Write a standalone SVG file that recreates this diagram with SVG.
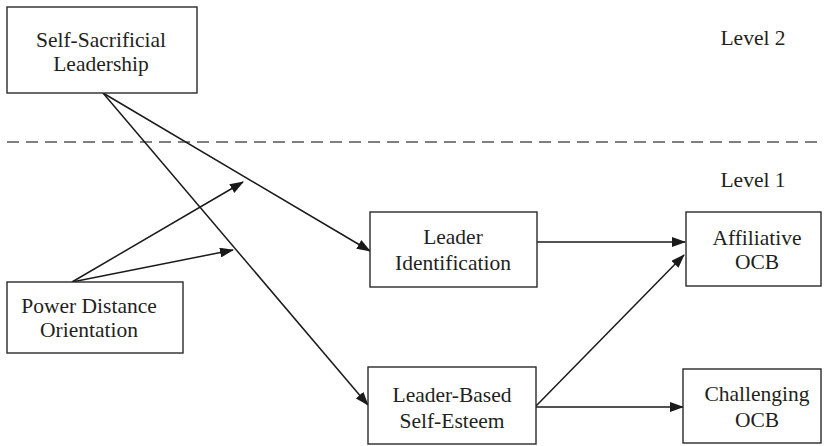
<svg xmlns="http://www.w3.org/2000/svg" width="824" height="446" viewBox="0 0 824 446">
<defs>
<style>
.box{fill:#fff;stroke:#2a2a2a;stroke-width:1.4}
.t{font-family:"Liberation Serif","Times New Roman",serif;font-size:21.5px;fill:#231f20;text-anchor:middle}
.c{stroke:#1a1a1a;stroke-width:1.5;fill:none}
</style>
<marker id="ah" markerWidth="14" markerHeight="10" refX="13" refY="5" orient="auto" markerUnits="userSpaceOnUse">
<path d="M0,0 L14,5 L0,10 Z" fill="#1a1a1a"/>
</marker>
</defs>
<rect width="824" height="446" fill="#fff"/>
<line x1="7" y1="142" x2="824" y2="142" stroke="#555" stroke-width="1.3" stroke-dasharray="12,7"/>
<text class="t" x="753" y="45">Level 2</text>
<text class="t" x="753" y="187">Level 1</text>
<g id="connectors">
<line class="c" x1="103" y1="93" x2="370" y2="251" marker-end="url(#ah)"/>
<line class="c" x1="103" y1="93" x2="368" y2="405" marker-end="url(#ah)"/>
<line class="c" x1="72" y1="282" x2="243" y2="182" marker-end="url(#ah)"/>
<line class="c" x1="72" y1="282" x2="233" y2="250" marker-end="url(#ah)"/>
<line class="c" x1="537" y1="242" x2="685" y2="242" marker-end="url(#ah)"/>
<line class="c" x1="536" y1="406" x2="684" y2="255" marker-end="url(#ah)"/>
<line class="c" x1="536" y1="407" x2="683" y2="407" marker-end="url(#ah)"/>
</g>
<g id="ssl">
<rect class="box" x="7" y="7" width="190" height="86"/>
<text class="t" x="101" y="47">Self-Sacrificial</text>
<text class="t" x="101" y="71">Leadership</text>
</g>
<g id="pdo">
<rect class="box" x="7" y="282" width="176" height="71"/>
<text class="t" x="89" y="313">Power Distance</text>
<text class="t" x="89" y="337">Orientation</text>
</g>
<g id="li">
<rect class="box" x="370" y="212" width="167" height="75"/>
<text class="t" x="453" y="244">Leader</text>
<text class="t" x="453" y="270">Identification</text>
</g>
<g id="lbse">
<rect class="box" x="368" y="367" width="168" height="77"/>
<text class="t" x="452" y="402">Leader-Based</text>
<text class="t" x="452" y="428">Self-Esteem</text>
</g>
<g id="aocb">
<rect class="box" x="686" y="212" width="135" height="74"/>
<text class="t" x="757" y="245">Affiliative</text>
<text class="t" x="757" y="269">OCB</text>
</g>
<g id="cocb">
<rect class="box" x="683" y="369" width="138" height="74"/>
<text class="t" x="757" y="401">Challenging</text>
<text class="t" x="757" y="427">OCB</text>
</g>
</svg>
